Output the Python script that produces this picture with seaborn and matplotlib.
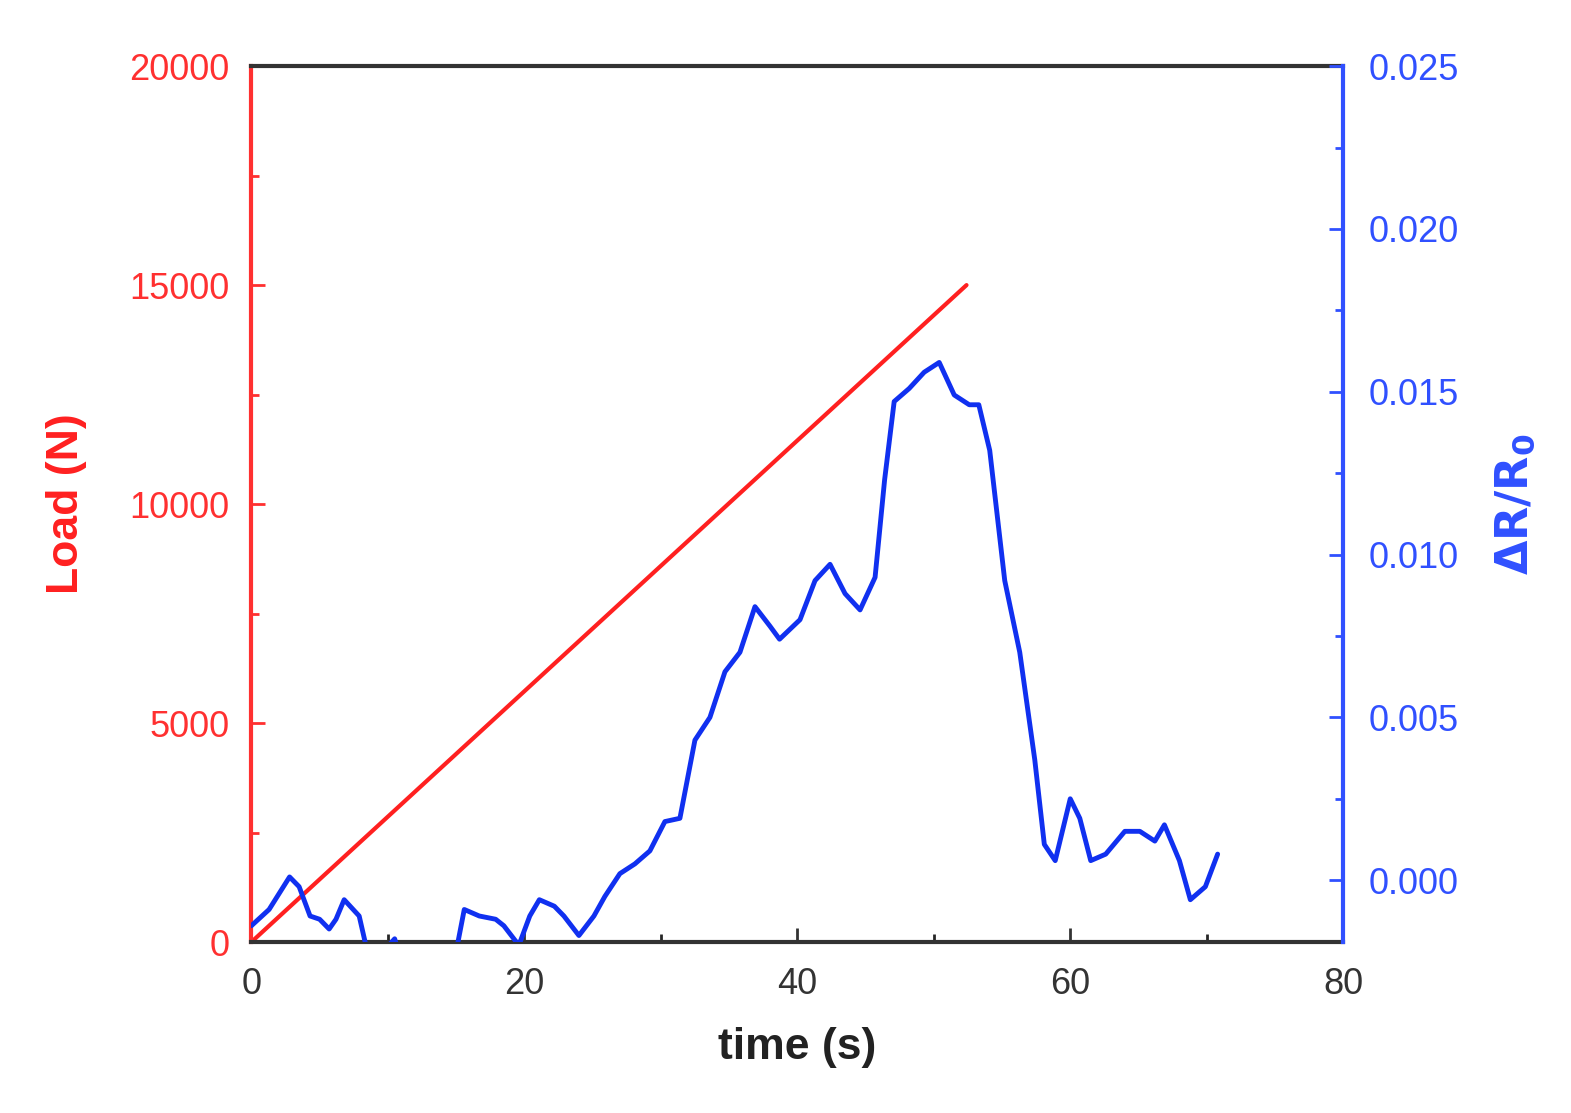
import matplotlib
matplotlib.use("Agg")
import matplotlib.pyplot as plt
import seaborn as sns
import numpy as np
from matplotlib.ticker import MultipleLocator

sns.set_style("ticks")
plt.rcParams['font.family'] = ['Liberation Sans', 'DejaVu Sans']

load_t = [0, 52.4]
load_v = [0, 15000]

dr_t = [0, 1.3, 2.8, 3.5, 4.3, 5.0, 5.7, 6.2, 6.8, 7.9, 8.5, 9.0, 10.5, 11.0, 14.5, 15.0, 15.6, 16.7, 17.9, 18.5, 19.6,
        20.4, 21.1, 22.2, 22.9, 24.0, 25.1, 25.9, 27.0, 28.1, 29.2, 30.3, 31.4, 32.5, 33.6, 34.7, 35.8, 36.9,
        38.0, 38.7, 40.2, 41.3, 42.4, 43.5, 44.6, 45.7, 46.4, 47.1, 48.2, 49.3, 50.4, 51.5, 52.6, 53.3, 54.1,
        55.2, 56.3, 57.4, 58.1, 58.9, 60.0, 60.7, 61.5, 62.6, 64.0, 65.1, 66.2, 66.9, 68.0, 68.8, 69.9, 70.8]
dr_v = [-0.0014, -0.0009, 0.0001, -0.0002, -0.0011, -0.0012, -0.0015, -0.0012, -0.0006, -0.0011, -0.0022, -0.0025,
        -0.0018, -0.0025, -0.0025, -0.0022, -0.0009, -0.0011, -0.0012, -0.0014, -0.0020,
        -0.0011, -0.0006, -0.0008, -0.0011, -0.0017, -0.0011, -0.0005, 0.0002, 0.0005, 0.0009, 0.0018, 0.0019,
        0.0043, 0.0050, 0.0064, 0.0070, 0.0084, 0.0078, 0.0074, 0.0080, 0.0092, 0.0097, 0.0088, 0.0083, 0.0093,
        0.0123, 0.0147, 0.0151, 0.0156, 0.0159, 0.0149, 0.0146, 0.0146, 0.0132, 0.0092, 0.0070, 0.0037, 0.0011,
        0.0006, 0.0025, 0.0019, 0.0006, 0.0008, 0.0015, 0.0015, 0.0012, 0.0017, 0.0006, -0.0006, -0.0002, 0.0008]

fig = plt.figure(figsize=(15.71, 11.13), dpi=100)
ax = fig.add_axes([0.160, 0.1536, 0.695, 0.787])
sns.lineplot(x=load_t, y=load_v, ax=ax, color='#ff2020', lw=3)
ax.set_xlim(0, 80)
ax.set_ylim(0, 20000)
ax.xaxis.set_major_locator(MultipleLocator(20))
ax.xaxis.set_minor_locator(MultipleLocator(10))
ax.yaxis.set_major_locator(MultipleLocator(5000))
ax.yaxis.set_minor_locator(MultipleLocator(2500))
ax.tick_params(axis='y', colors='#ff3030', labelsize=26, direction='in', length=10, width=2, pad=16)
ax.tick_params(axis='y', which='minor', colors='#ff3030', direction='in', length=6, width=2)
ax.tick_params(axis='x', labelsize=26, direction='in', length=10, width=2, colors='#333333', pad=18)
ax.tick_params(axis='x', which='minor', direction='in', length=6, width=2)
ax.set_xlabel('time (s)', fontsize=32, fontweight='bold', color='#222222', labelpad=18)
ax.set_ylabel('Load (N)', fontsize=32, fontweight='bold', color='#ff2020', labelpad=30)
for s in ['top', 'bottom']:
    ax.spines[s].set_color('#333333'); ax.spines[s].set_linewidth(3)
ax.spines['left'].set_color('#ff3030'); ax.spines['left'].set_linewidth(3)

ax2 = ax.twinx()
sns.lineplot(x=dr_t, y=dr_v, ax=ax2, color='#1030f0', lw=3.5)
ax2.set_ylim(-0.0019, 0.025)
ax2.yaxis.set_major_locator(MultipleLocator(0.005))
ax2.yaxis.set_minor_locator(MultipleLocator(0.0025))
ax2.yaxis.set_major_formatter(matplotlib.ticker.FormatStrFormatter('%.3f'))
ax2.tick_params(axis='y', colors='#3050ff', labelsize=26, direction='in', length=10, width=2, pad=18)
ax2.tick_params(axis='y', which='minor', colors='#3050ff', direction='in', length=6, width=2)
ax2.set_ylabel(r'$\mathbf{\Delta R/R_0}$', fontsize=32, fontweight='bold', color='#3050ff', labelpad=25)
ax2.spines['right'].set_color('#3050ff'); ax2.spines['right'].set_linewidth(3)
ax2.spines['left'].set_visible(False)
ax2.spines['top'].set_visible(False)
ax2.spines['bottom'].set_visible(False)

fig.savefig('out.png', dpi=100)
